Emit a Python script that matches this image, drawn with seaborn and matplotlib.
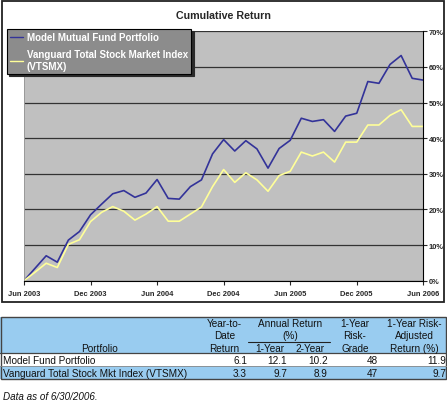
import numpy as np
import pandas as pd
import matplotlib
matplotlib.use("Agg")
import matplotlib.pyplot as plt
from matplotlib.patches import Rectangle
import seaborn as sns

# --- data ------------------------------------------------------------------
tick_labels = ["Jun 2003", "Dec 2003", "Jun 2004", "Dec 2004",
               "Jun 2005", "Dec 2005", "Jun 2006"]
model_return = [0, 3.5, 7.0, 5.2, 11.4, 13.8, 18.5,
                21.5, 24.4, 25.3, 23.4, 24.6, 28.4,
                23.1, 22.9, 26.4, 28.3, 35.6, 39.6,
                36.4, 39.3, 37.0, 31.6, 37.1, 39.4,
                45.6, 44.7, 45.2, 41.9, 46.2, 47.0,
                55.9, 55.4, 60.7, 63.2, 56.8, 56.3]
vtsmx_return = [0, 2.4, 4.9, 3.7, 10.2, 11.5, 16.6,
                19.2, 20.8, 19.5, 17.0, 18.7, 20.8,
                16.7, 16.7, 18.7, 20.7, 26.4, 31.2,
                27.6, 30.3, 28.3, 25.1, 29.5, 30.7,
                36.1, 35.0, 36.1, 33.3, 38.9, 38.9,
                43.7, 43.7, 46.4, 48.0, 43.3, 43.3]
series_names = ["Model Mutual Fund Portfolio",
                "Vanguard Total Stock Market Index\n(VTSMX)"]

table_rows = ["Model Fund Portfolio", "Vanguard Total Stock Mkt Index (VTSMX)"]
ytd = [6.1, 3.3]
one_year = [12.1, 9.7]
two_year = [10.2, 8.9]
risk_grade = [48, 47]
risk_adj = [11.9, 9.7]

# --- style -----------------------------------------------------------------
sns.set_style("white")
plt.rcParams["font.family"] = ["Liberation Sans", "DejaVu Sans"]

W, H = 447, 402
BLUE = "#333399"
YELLOW = "#ffff99"
HEAD = "#99ccf0"


def px_rect(l, t, r, b):
    return [l / W, 1 - b / H, (r - l) / W, (b - t) / H]


fig = plt.figure(figsize=(W / 100, H / 100), dpi=100)

# overlay in pixel units for frame + table
ov = fig.add_axes([0, 0, 1, 1], zorder=0)
ov.set_xlim(0, W)
ov.set_ylim(H, 0)
ov.axis("off")
ov.add_patch(Rectangle((1.5, 2), 442.5, 301, fill=False, ec="#222222", lw=1.3))

# --- line chart ------------------------------------------------------------
ax = fig.add_axes(px_rect(24, 32.3, 423.3, 281.7), zorder=1)
n = len(model_return)
df = pd.DataFrame({
    "month": list(range(n)) * 2,
    "value": model_return + vtsmx_return,
    "series": [series_names[0]] * n + [series_names[1]] * n,
})
sns.lineplot(data=df, x="month", y="value", hue="series",
             palette=[BLUE, YELLOW], linewidth=1.2, ax=ax)

ax.set_facecolor("#c0c0c0")
ax.set_xlim(0, n - 1)
ax.set_ylim(0, 70)
ax.set_xlabel("")
ax.set_ylabel("")
ax.set_xticks(range(0, n, 6))
ax.set_xticklabels(tick_labels)
ax.yaxis.tick_right()
ax.set_yticks(range(0, 71, 10))
ax.set_yticklabels([f"{v}%" for v in range(0, 71, 10)])
ax.yaxis.grid(True, color="#333333", lw=0.9)
ax.xaxis.grid(False)
ax.set_axisbelow(True)
for lab in ax.get_xticklabels() + ax.get_yticklabels():
    lab.set_fontsize(5.4)
    lab.set_fontweight("bold")
ax.tick_params(axis="x", length=3, width=0.8, direction="out", pad=4, bottom=True)
ax.tick_params(axis="y", length=3, width=0.8, direction="out", pad=1, right=True)
ax.spines["top"].set_visible(False)
ax.spines["left"].set_color("#999999")
ax.spines["left"].set_linewidth(0.7)
ax.spines["bottom"].set_color("black")
ax.spines["right"].set_color("black")

handles, labels = ax.get_legend_handles_labels()
leg = ax.legend(handles, labels, loc="upper left",
                bbox_to_anchor=(7 / W, 1 - 30 / H), bbox_transform=fig.transFigure,
                frameon=True, fancybox=False,
                shadow={"ox": 1.5, "oy": -1.5, "alpha": 1},
                facecolor="#8c8c8c", edgecolor="black", framealpha=1,
                prop={"weight": "bold", "size": 7}, labelcolor="white",
                handlelength=1.3, handletextpad=0.4, borderaxespad=0,
                borderpad=0.35, labelspacing=0.7)
leg.get_frame().set_linewidth(0.8)
for line in leg.get_lines():
    line.set_linewidth(1.0)

fig.text(223 / W, 1 - 16 / H, "Cumulative Return", ha="center", va="center",
         fontsize=7.7, fontweight="bold")

# --- table -----------------------------------------------------------------
top, head_bot, row1_bot, row2_bot = 318, 354, 367, 380
ov.add_patch(Rectangle((0, top), W, head_bot - top, fc=HEAD, ec="none"))
ov.add_patch(Rectangle((0, row1_bot), W, row2_bot - row1_bot, fc=HEAD, ec="none"))
ov.add_patch(Rectangle((0.6, top), W - 1.2, row2_bot - top, fill=False, ec="#444444", lw=1.0))
ov.plot([0, W], [head_bot, head_bot], color="#444444", lw=0.9)
ov.plot([0, W], [row1_bot, row1_bot], color="#888888", lw=0.6)
ov.plot([248, 330], [342.7, 342.7], color="#222222", lw=0.8)

fs = 7.2
hdr = dict(ha="center", va="center", fontsize=fs, color="#111111")
ov.text(100, 349, "Portfolio", **hdr)
for y, s in zip([324, 336.5, 349], ["Year-to-", "Date", "Return"]):
    ov.text(224.5, y, s, **hdr)
ov.text(290, 324, "Annual Return", **hdr)
ov.text(290, 336.5, "(%)", **hdr)
ov.text(269.5, 349, "1-Year", **hdr)
ov.text(310, 349, "2-Year", **hdr)
for y, s in zip([324, 336.5, 349], ["1-Year", "Risk-", "Grade"]):
    ov.text(355, y, s, **hdr)
for y, s in zip([324, 336.5, 349], ["1-Year Risk-", "Adjusted", "Return (%)"]):
    ov.text(414, y, s, **hdr)

row_y = [361, 374]
val_cols = [(247, ytd, "{:.1f}"), (287, one_year, "{:.1f}"),
            (328, two_year, "{:.1f}"), (378, risk_grade, "{:d}"),
            (446, risk_adj, "{:.1f}")]
for i, name in enumerate(table_rows):
    ov.text(3, row_y[i], name, ha="left", va="center", fontsize=fs, color="#111111")
    for x, vals, fmt in val_cols:
        ov.text(x, row_y[i], fmt.format(vals[i]), ha="right", va="center",
                fontsize=fs, color="#111111")

fig.text(3 / W, 1 - 397 / H, "Data as of 6/30/2006.", ha="left", va="center",
         fontsize=7.1, fontstyle="italic", color="#111111")

fig.savefig("out.png", dpi=100)
